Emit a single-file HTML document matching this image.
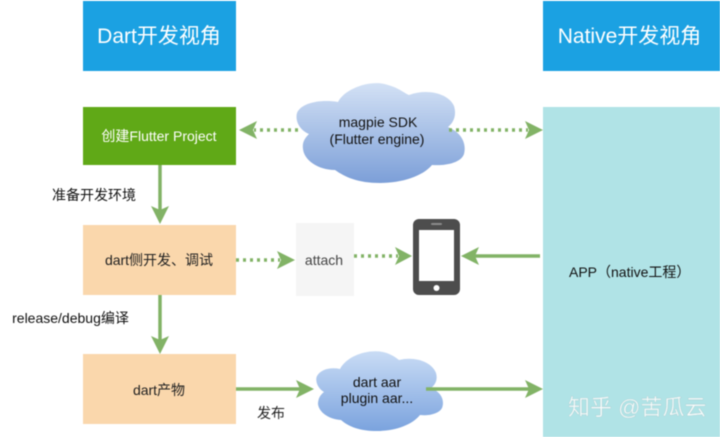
<!DOCTYPE html>
<html>
<head>
<meta charset="utf-8">
<style>
html,body{margin:0;padding:0;background:#fff;}
body{width:720px;height:437px;overflow:hidden;}
svg{display:block;filter:blur(0.45px);}
text{font-family:"Liberation Sans","Noto Sans CJK SC",sans-serif;}
</style>
</head>
<body>
<svg width="720" height="437" viewBox="0 0 720 437" xmlns="http://www.w3.org/2000/svg">
<defs>
<linearGradient id="c1" x1="0" y1="0" x2="0" y2="1"><stop offset="0" stop-color="#d3e1f5"/><stop offset="1" stop-color="#7c9fd8"/></linearGradient>
<linearGradient id="c2" x1="0" y1="0" x2="0" y2="1"><stop offset="0" stop-color="#c9dcf5"/><stop offset="1" stop-color="#7ba3de"/></linearGradient>
</defs>
<rect width="720" height="437" fill="#fff"/>
<rect x="83" y="1" width="153" height="70" fill="#1ba1e2"/>
<rect x="543" y="1" width="177" height="70" fill="#1ba1e2"/>
<rect x="83" y="107" width="153" height="58" fill="#60a917"/>
<rect x="83" y="225" width="153" height="70" fill="#fad7ac"/>
<rect x="83" y="354" width="153" height="70" fill="#fad7ac"/>
<rect x="543" y="107" width="177" height="330" fill="#b0e3e6"/>
<rect x="296" y="223" width="58" height="73" fill="#f5f5f5"/>

<path fill="url(#c1)" d="M338 102C345 88 372 79 388 85C399 88 404 93 409 95C428 88 449 94 454 106C457 116 453 123 448 127C460 132 467 142 464 154C461 163 445 166 432 165C423 176 402 183 380 183C358 183 345 177 335 170C318 170 304 160 303 149C302 142 305 138 309 134C299 130 295 120 297 113C301 103 320 99 338 102Z"/>
<path fill="url(#c2)" d="M340 369C347 356 367 349 383 352C391 354 395 357 399 360C415 356 432 362 436 373C438 380 435 385 431 388C441 392 445 400 442 408C439 414 428 416 420 415C412 425 395 431 377 431C360 431 349 427 341 420C328 419 319 412 318 404C318 399 320 395 324 392C317 388 315 380 317 376C321 369 331 367 340 369Z"/>

<g stroke="#82b366" fill="none">
<line x1="160" y1="165" x2="160" y2="210" stroke-width="3.500"/>
<line x1="160" y1="295" x2="160" y2="340" stroke-width="3.500"/>
<line x1="236" y1="389" x2="300" y2="389" stroke-width="3.500"/>
<line x1="426" y1="389" x2="530" y2="389" stroke-width="3.500"/>
<line x1="540" y1="256" x2="472" y2="256" stroke-width="3.500"/>
<line x1="298" y1="130" x2="254" y2="130" stroke-width="3.500" stroke-dasharray="3 4"/>
<line x1="449" y1="130" x2="528" y2="130" stroke-width="3.500" stroke-dasharray="3 4"/>
<line x1="236" y1="260" x2="280" y2="260" stroke-width="3.500" stroke-dasharray="3 4"/>
<line x1="354" y1="256" x2="398" y2="256" stroke-width="3.500" stroke-dasharray="3 4"/>
</g>
<g fill="#82b366">
<path d="M160 224L151 206L160 210L169 206Z"/>
<path d="M160 354L151 336L160 340L169 336Z"/>
<path d="M314 389L296 380L300 389L296 398Z"/>
<path d="M543 389L525 380L529 389L525 398Z"/>
<path d="M461 256L479 247L475 256L479 265Z"/>
<path d="M239 130L257 121L253 130L257 139Z"/>
<path d="M543 130L525 121L529 130L525 139Z"/>
<path d="M295 260L277 251L281 260L277 269Z"/>
<path d="M412 256L395 247L399 256L395 265Z"/>
</g>

<rect x="413" y="219" width="47" height="76" rx="6" fill="#4d4d4d"/>
<rect x="419" y="230" width="35" height="51" fill="#fff"/>
<rect x="431" y="223" width="11" height="2" rx="1" fill="#8a8a8a"/>
<circle cx="436.500" cy="288" r="3" fill="#fff"/>

<text x="159" y="43" font-size="21" fill="#fff" text-anchor="middle">Dart开发视角</text>
<text x="629.500" y="43" font-size="21" fill="#fff" text-anchor="middle">Native开发视角</text>
<text x="159" y="141" font-size="14" fill="#fff" text-anchor="middle">创建Flutter Project</text>
<text x="94" y="200" font-size="14" fill="#111" text-anchor="middle">准备开发环境</text>
<text x="159" y="265" font-size="14" fill="#222" text-anchor="middle">dart侧开发、调试</text>
<text x="70.500" y="323" font-size="14" fill="#111" text-anchor="middle">release/debug编译</text>
<text x="159" y="395" font-size="14" fill="#222" text-anchor="middle">dart产物</text>
<text x="271" y="418" font-size="14" fill="#222" text-anchor="middle">发布</text>
<text x="324" y="265" font-size="14" fill="#444" text-anchor="middle">attach</text>
<text x="378" y="127" font-size="14" fill="#111" text-anchor="middle">magpie SDK</text>
<text x="377" y="144" font-size="14" fill="#111" text-anchor="middle">(Flutter engine)</text>
<text x="377" y="387" font-size="14" fill="#111" text-anchor="middle">dart aar</text>
<text x="377" y="403" font-size="14" fill="#111" text-anchor="middle">plugin aar...</text>
<text x="569" y="277" font-size="14" fill="#111">APP（native工程）</text>
<text x="568" y="415" font-size="22" fill="#f6fbfb" stroke="#a3c6c9" stroke-width="0.3">知乎 @苦瓜云</text>
</svg>
</body>
</html>
